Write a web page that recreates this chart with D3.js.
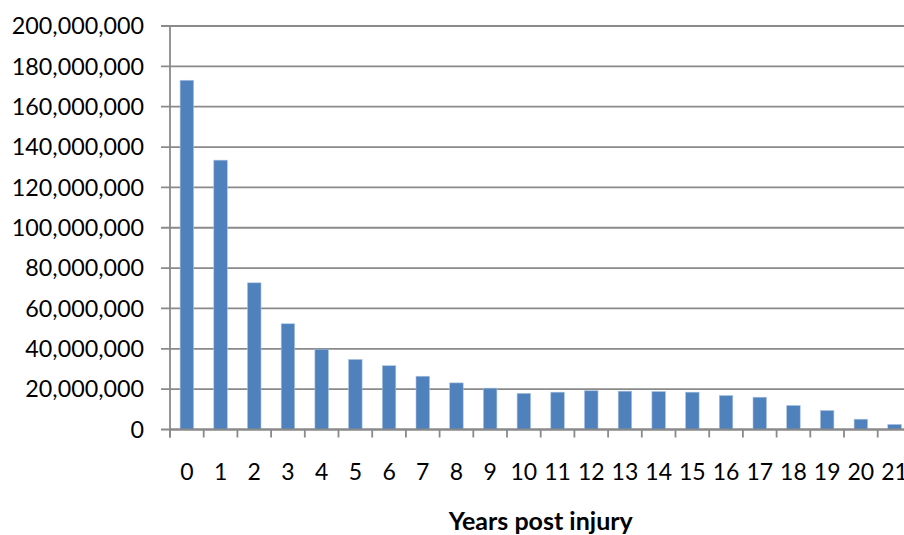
<!DOCTYPE html>
<html><head><meta charset="utf-8">
<script src="https://cdn.jsdelivr.net/npm/d3@7/dist/d3.min.js"></script>
<style>
html,body{margin:0;padding:0;background:#fff;overflow:hidden;}
svg{display:block;}
text{font-family:Lato, "Open Sans", sans-serif;fill:#000;}
</style></head>
<body>
<svg id="chart" width="904" height="535"></svg>
<script>
const categories = ["0","1","2","3","4","5","6","7","8","9","10","11","12","13","14","15","16","17","18","19","20","21"];
const values = [173100000,133500000,72700000,52400000,39800000,34700000,31600000,26400000,23100000,20500000,17900000,18500000,19200000,19000000,18800000,18500000,16800000,16000000,11900000,9400000,5100000,2500000];
const yTicks = [0,20000000,40000000,60000000,80000000,100000000,120000000,140000000,160000000,180000000,200000000];
const xTitle = "Years post injury";

const svg = d3.select("#chart");
const mLeft = 170, mRight = 911.4, mTop = 26, mBottom = 429.5;
const gridColor = "#8a8a8a";

const x = d3.scaleBand().domain(categories).range([mLeft, mRight]).paddingInner(0.6).paddingOuter(0.3);
const xb = d3.scaleBand().domain(categories).range([mLeft, mRight]);
const y = d3.scaleLinear().domain([0, 200000000]).range([mBottom, mTop]);

// gridlines
svg.append("g").selectAll("line").data(yTicks).join("line")
  .attr("x1", mLeft - 9).attr("x2", mRight + 5)
  .attr("y1", d => y(d)).attr("y2", d => y(d))
  .attr("stroke", gridColor).attr("stroke-width", 1.8);

// bars
svg.append("g").selectAll("rect").data(values).join("rect")
  .attr("x", (d, i) => x(categories[i]))
  .attr("width", x.bandwidth())
  .attr("y", d => y(d))
  .attr("height", d => y(0) - y(d))
  .attr("fill", "#4F81BD")
  .attr("stroke", "#a9c1e0").attr("stroke-width", 0.6);

// y axis line
svg.append("line").attr("x1", mLeft).attr("x2", mLeft).attr("y1", mTop).attr("y2", mBottom + 8)
  .attr("stroke", gridColor).attr("stroke-width", 1.8);
// x axis line
svg.append("line").attr("x1", mLeft).attr("x2", mRight + 5).attr("y1", mBottom).attr("y2", mBottom)
  .attr("stroke", gridColor).attr("stroke-width", 1.8);

// category ticks
const boundaries = categories.map(c => xb(c)).concat([mRight]);
svg.append("g").selectAll("line").data(boundaries).join("line")
  .attr("x1", d => d).attr("x2", d => d)
  .attr("y1", mBottom).attr("y2", mBottom + 8)
  .attr("stroke", gridColor).attr("stroke-width", 1.8);

// y labels
const fmt = d3.format(",");
svg.append("g").selectAll("text").data(yTicks).join("text")
  .attr("x", 144).attr("y", d => y(d))
  .attr("dy", "0.35em")
  .attr("text-anchor", "end")
  .style("font-size", "23.3px")
  .text(d => fmt(d));

// x labels
svg.append("g").selectAll("text").data(categories).join("text")
  .attr("x", d => xb(d) + xb.bandwidth() / 2)
  .attr("y", 480)
  .attr("text-anchor", "middle")
  .style("font-size", "23px")
  .text(d => d);

// x title
svg.append("text")
  .attr("x", (mLeft + mRight) / 2).attr("y", 530)
  .attr("text-anchor", "middle")
  .style("font-size", "25px").style("font-weight", "bold")
  .text(xTitle);
</script>
</body></html>
